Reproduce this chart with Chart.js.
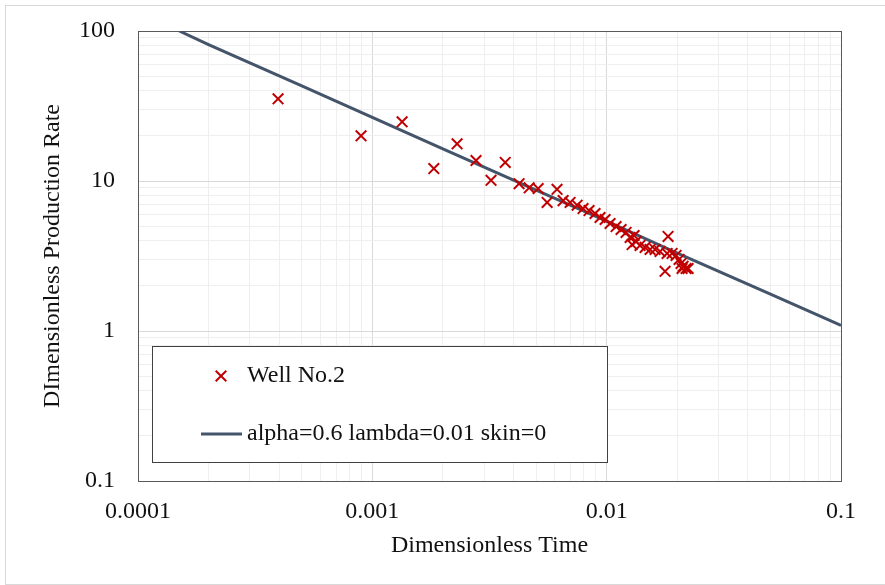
<!DOCTYPE html>
<html><head><meta charset="utf-8">
<script src="https://cdn.jsdelivr.net/npm/chart.js@4/dist/chart.umd.min.js"></script>
<style>html,body{margin:0;padding:0;background:#fff;}canvas{display:block;}</style>
</head><body>
<canvas id="c" width="885" height="585"></canvas>
<script>
// ---- data ----
const xTickValues = [0.0001, 0.001, 0.01, 0.1];
const xTickLabels = ['0.0001', '0.001', '0.01', '0.1'];
const yTickValues = [0.1, 1, 10, 100];
const yTickLabels = ['0.1', '1', '10', '100'];

const seriesNames = ['Well No.2', 'alpha=0.6 lambda=0.01 skin=0'];

const wellTime = [0.000396, 0.000895, 0.00134, 0.00183, 0.0023, 0.00277, 0.00321, 0.00369, 0.00423, 0.00467,
  0.0051, 0.00557, 0.00614, 0.00652, 0.00698, 0.00748, 0.00793, 0.00841, 0.00892, 0.00937,
  0.00985, 0.01034, 0.01097, 0.01152, 0.0121, 0.01259, 0.01309, 0.01284, 0.01335, 0.01388,
  0.01459, 0.01532, 0.01609, 0.0169, 0.01811, 0.01828, 0.01775, 0.01902, 0.01978, 0.02037,
  0.02077, 0.02119, 0.02182, 0.02098, 0.02226];
const wellRate = [35.3, 20.0, 24.8, 12.1, 17.7, 13.7, 10.1, 13.3, 9.6, 9.0,
  8.9, 7.2, 8.8, 7.4, 7.2, 6.9, 6.55, 6.35, 6.07, 5.71,
  5.54, 5.21, 4.97, 4.75, 4.54, 4.2, 4.33, 3.77, 3.95, 3.72,
  3.61, 3.5, 3.5, 3.39, 3.29, 4.27, 2.5, 3.29, 3.19, 3.0,
  2.82, 2.7, 2.61, 2.61, 2.61];

const modelTime = [0.00015, 0.0002, 0.0005, 0.001, 0.002, 0.005, 0.01, 0.02, 0.05, 0.1];
const modelRate = [100, 81, 43, 26.6, 16.4, 8.7, 5.4, 3.3, 1.76, 1.09];

// ---- helpers ----
function gridTicks(decades) {
  const out = [];
  for (let i = 0; i < decades.length - 1; i++) {
    for (let d = 1; d <= 9; d++) out.push({ value: decades[i] * d });
  }
  out.push({ value: decades[decades.length - 1] });
  return out;
}
function isDecade(v) {
  const l = Math.log10(v);
  return Math.abs(l - Math.round(l)) < 1e-6;
}
function labelFor(v, values, labels) {
  for (let i = 0; i < values.length; i++) {
    if (Math.abs(Math.log10(v) - Math.log10(values[i])) < 1e-6) return labels[i];
  }
  return '';
}

Chart.defaults.font.family = "'Liberation Serif', 'Times New Roman', serif";
Chart.defaults.font.size = 24;
Chart.defaults.color = '#111';

const framePlugin = {
  id: 'frame',
  beforeDraw(chart) {
    const ctx = chart.ctx;
    ctx.save();
    ctx.fillStyle = '#fff';
    ctx.fillRect(0, 0, chart.width, chart.height);
    ctx.strokeStyle = '#d9d9d9';
    ctx.lineWidth = 1;
    ctx.strokeRect(5.5, 5.5, chart.width + 10, chart.height - 6);
    ctx.restore();
  },
  beforeDatasetsDraw(chart) {
    const a = chart.chartArea, ctx = chart.ctx;
    ctx.save();
    ctx.strokeStyle = '#595959';
    ctx.lineWidth = 1;
    ctx.strokeRect(Math.round(a.left) + 0.5, Math.round(a.top) + 0.5,
      Math.round(a.right - a.left), Math.round(a.bottom - a.top));
    ctx.restore();
  }
};

const legendPlugin = {
  id: 'boxLegend',
  afterDraw(chart) {
    const ctx = chart.ctx;
    const bx = 152.5, by = 346.5, bw = 455, bh = 116;
    ctx.save();
    ctx.fillStyle = '#fff';
    ctx.fillRect(bx, by, bw, bh);
    ctx.strokeStyle = '#404040';
    ctx.lineWidth = 1;
    ctx.strokeRect(bx, by, bw, bh);
    ctx.font = "24px 'Liberation Serif', 'Times New Roman', serif";
    ctx.fillStyle = '#111';
    ctx.textBaseline = 'middle';
    ctx.textAlign = 'left';
    // item 1: marker
    const d0 = chart.data.datasets[0];
    const mx = 221, my = 376, r = 5.3;
    ctx.strokeStyle = d0.borderColor;
    ctx.lineWidth = 2;
    ctx.beginPath();
    ctx.moveTo(mx - r, my - r); ctx.lineTo(mx + r, my + r);
    ctx.moveTo(mx - r, my + r); ctx.lineTo(mx + r, my - r);
    ctx.stroke();
    ctx.fillText(d0.label, 247, my);
    // item 2: line
    const d1 = chart.data.datasets[1];
    const ly = 434;
    ctx.strokeStyle = d1.borderColor;
    ctx.lineWidth = 3;
    ctx.beginPath();
    ctx.moveTo(201, ly); ctx.lineTo(242, ly);
    ctx.stroke();
    ctx.fillText(d1.label, 247, ly);
    ctx.restore();
  }
};

new Chart(document.getElementById('c'), {
  type: 'scatter',
  data: {
    datasets: [
      {
        label: seriesNames[0],
        data: wellTime.map((t, i) => ({ x: t, y: wellRate[i] })),
        pointStyle: 'crossRot',
        pointRadius: 7.5,
        pointBorderWidth: 2,
        borderColor: '#C00000',
        backgroundColor: '#C00000',
        showLine: false
      },
      {
        label: seriesNames[1],
        data: modelTime.map((t, i) => ({ x: t, y: modelRate[i] })),
        showLine: true,
        pointRadius: 0,
        borderColor: '#44546A',
        backgroundColor: '#44546A',
        borderWidth: 3,
        tension: 0
      }
    ]
  },
  options: {
    responsive: false,
    animation: false,
    devicePixelRatio: 1,
    layout: { padding: { left: 0, top: 31, right: 44, bottom: 0 } },
    plugins: { legend: { display: false }, tooltip: { enabled: false } },
    scales: {
      x: {
        type: 'logarithmic',
        min: xTickValues[0],
        max: xTickValues[xTickValues.length - 1],
        afterBuildTicks(scale) { scale.ticks = gridTicks(xTickValues); },
        afterFit(scale) { scale.height = 104; scale.paddingLeft = 0; scale.paddingRight = 0; },
        grid: {
          drawTicks: false,
          color: (c) => (c.tick && isDecade(c.tick.value)) ? '#d9d9d9' : '#efefef',
          lineWidth: 1
        },
        border: { display: false },
        ticks: {
          autoSkip: false,
          maxRotation: 0,
          padding: 16,
          color: '#111',
          callback: (v) => labelFor(v, xTickValues, xTickLabels)
        },
        title: {
          display: true,
          text: 'Dimensionless Time',
          color: '#111',
          font: { size: 24 },
          padding: { top: 0, bottom: 25 }
        }
      },
      y: {
        type: 'logarithmic',
        min: yTickValues[0],
        max: yTickValues[yTickValues.length - 1],
        afterBuildTicks(scale) { scale.ticks = gridTicks(yTickValues); },
        afterFit(scale) { scale.width = 138; scale.paddingTop = 0; scale.paddingBottom = 0; },
        grid: {
          drawTicks: false,
          color: (c) => (c.tick && isDecade(c.tick.value)) ? '#d9d9d9' : '#efefef',
          lineWidth: 1
        },
        border: { display: false },
        ticks: {
          autoSkip: false,
          padding: 23,
          color: '#111',
          callback: (v) => labelFor(v, yTickValues, yTickLabels)
        },
        title: {
          display: true,
          text: 'DImensionless Production Rate',
          color: '#111',
          font: { size: 24 },
          padding: { top: 38, bottom: 0 }
        }
      }
    }
  },
  plugins: [framePlugin, legendPlugin]
});
</script>
</body></html>
